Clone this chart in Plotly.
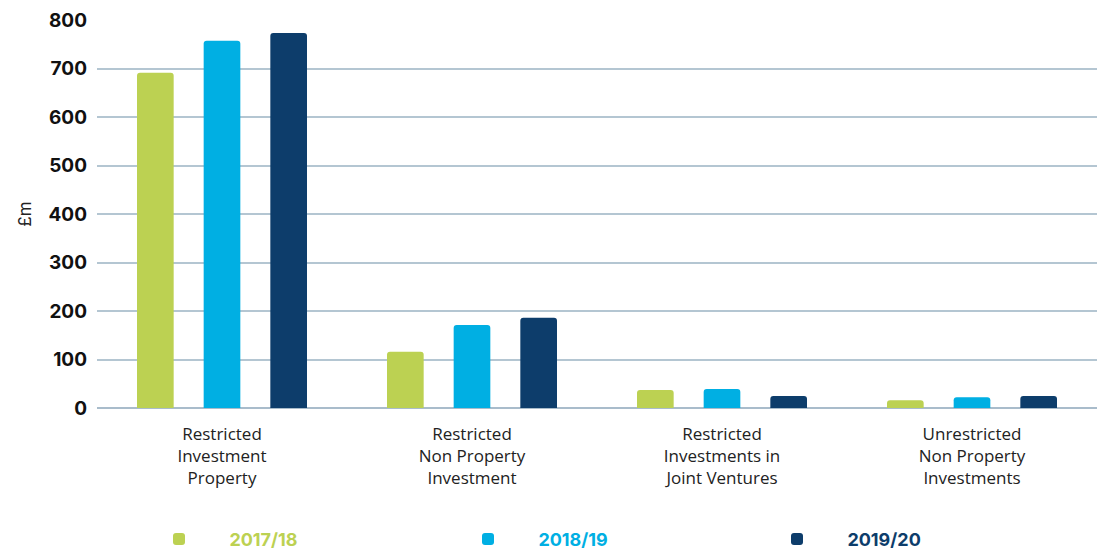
import plotly.graph_objects as go

categories = [
    "Restricted<br>Investment<br>Property",
    "Restricted<br>Non Property<br>Investment",
    "Restricted<br>Investments in<br>Joint Ventures",
    "Unrestricted<br>Non Property<br>Investments",
]
series_names = ["2017/18", "2018/19", "2019/20"]
values_2017 = [691, 116, 37, 16]
values_2018 = [757, 171, 39, 22]
values_2019 = [773, 186, 25, 25]
colors = ["#bcd152", "#00afe3", "#0d3d6b"]

fig = go.Figure()
for name, vals, col in zip(series_names, [values_2017, values_2018, values_2019], colors):
    fig.add_trace(go.Bar(
        x=categories, y=vals,
        name="&nbsp;" * 6 + f"<b><span style='color:{col}'>{name}</span></b>",
        marker=dict(color=col, line=dict(width=0)),
    ))

fig.update_layout(
    width=1097, height=558,
    margin=dict(l=97, r=0, t=20, b=150),
    plot_bgcolor="white", paper_bgcolor="white",
    barmode="group", bargap=0.2, bargroupgap=0.45,
    barcornerradius=3,
    font=dict(family="Liberation Sans, Roboto, sans-serif", color="#222"),
    showlegend=True,
    legend=dict(
        orientation="h", x=0.062, y=-0.386, xanchor="left", yanchor="bottom",
        entrywidth=264, entrywidthmode="pixels",
        font=dict(family="Inter, Lato, sans-serif", size=18),
        itemsizing="constant",
    ),
)
fig.update_yaxes(
    range=[0, 800], dtick=100, automargin=False,
    showgrid=True, gridcolor="#b4c6d2", gridwidth=1.5,
    zeroline=True, zerolinecolor="#a9bccb", zerolinewidth=1.5,
    tickfont=dict(family="Inter, Lato, sans-serif", size=19, color="#111", weight="bold"),
    ticklabelstandoff=9,
    title=dict(text="£m", font=dict(family="Inter, Lato, sans-serif", size=17, color="#222"), standoff=12),
)
fig.update_xaxes(
    automargin=False,
    tickfont=dict(family="Open Sans, Liberation Sans, sans-serif", size=17, color="#222"),
    ticklabelstandoff=14,
    showline=False,
)

fig.write_html(
    "out.html",
    config={"displayModeBar": False},
    post_script="document.body.style.margin='0';document.body.style.overflow='hidden';",
)
